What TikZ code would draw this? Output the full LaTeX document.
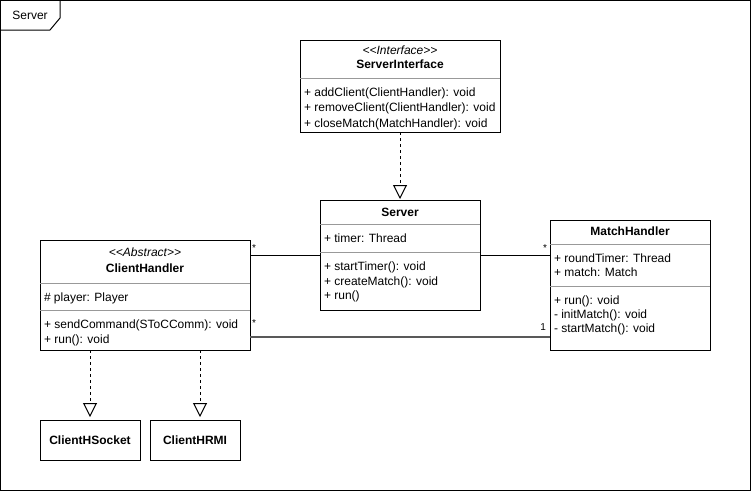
\documentclass[tikz,border=0pt]{standalone}
\usepackage{fontspec}
\setmainfont{Liberation Sans}
\usetikzlibrary{arrows.meta}
\begin{document}
\begin{tikzpicture}[x=1pt,y=-1pt,
  every node/.style={font=\fontsize{12}{14}\selectfont, inner sep=0pt, outer sep=0pt},
  box/.style={draw=black, line width=1pt, anchor=north west},
  sepline/.style={draw=black!40, line width=1pt},
  lt/.style={anchor=base west},
  ct/.style={anchor=base},
  ttl/.style={anchor=base, font=\fontsize{12}{14}\selectfont\bfseries},
  stereo/.style={anchor=base, font=\fontsize{12}{14}\selectfont\itshape},
  mult/.style={font=\fontsize{10}{12}\selectfont},
  assoc/.style={draw=black, line width=1pt},
  realize/.style={draw=black, line width=1pt, dash pattern=on 3pt off 3pt,
    -{Triangle[open, length=14pt, width=14pt, line width=1pt]}}
]
% frame
\path[use as bounding box] (0,0) rectangle (751,491);
\node[box, minimum width=750pt, minimum height=490pt] (frame) at (0.5,0.5) {};
\draw[line width=1pt] (0.5,30) -- (50,30) -- (60,18) -- (60,0.5);
\node[ct] (frametitle) at (30,19.5) {Server};

% ServerInterface
\node[box, minimum width=200pt, minimum height=92pt] (si) at (300,40) {};
\node[stereo] (sist) at (400,54.5) {<{}<Interface>{}>};
\node[ttl] (sit) at (400,68.5) {ServerInterface};
\draw[sepline] (si.west |- 0,78) -- (si.east |- 0,78);
\node[lt] (si1) at (304,96) {+ addClient(ClientHandler): void};
\node[lt] (si2) at (304,111.5) {+ removeClient(ClientHandler): void};
\node[lt] (si3) at (304,127) {+ closeMatch(MatchHandler): void};

% Server
\node[box, minimum width=160pt, minimum height=110pt] (srv) at (320,200) {};
\node[ttl] (srvt) at (400,216.5) {Server};
\draw[sepline] (srv.west |- 0,224) -- (srv.east |- 0,224);
\node[lt] (srv1) at (324,242.5) {+ timer: Thread};
\draw[sepline] (srv.west |- 0,252) -- (srv.east |- 0,252);
\node[lt] (srv2) at (324,270.5) {+ startTimer(): void};
\node[lt] (srv3) at (324,285) {+ createMatch(): void};
\node[lt] (srv4) at (324,299.5) {+ run()};

% ClientHandler
\node[box, minimum width=210pt, minimum height=110pt] (ch) at (40,240) {};
\node[stereo] (chst) at (145,256.5) {<{}<Abstract>{}>};
\node[ttl] (cht) at (145,272.5) {ClientHandler};
\draw[sepline] (ch.west |- 0,283) -- (ch.east |- 0,283);
\node[lt] (ch1) at (44,301.5) {\# player: Player};
\draw[sepline] (ch.west |- 0,310) -- (ch.east |- 0,310);
\node[lt] (ch2) at (44,328.5) {+ sendCommand(SToCComm): void};
\node[lt] (ch3) at (44,343.5) {+ run(): void};

% MatchHandler
\node[box, minimum width=160pt, minimum height=130pt] (mh) at (550,220) {};
\node[ttl] (mht) at (630,235.5) {MatchHandler};
\draw[sepline] (mh.west |- 0,244) -- (mh.east |- 0,244);
\node[lt] (mh1) at (554,262.5) {+ roundTimer: Thread};
\node[lt] (mh2) at (554,276.5) {+ match: Match};
\draw[sepline] (mh.west |- 0,286) -- (mh.east |- 0,286);
\node[lt] (mh3) at (554,304.5) {+ run(): void};
\node[lt] (mh4) at (554,318.5) {- initMatch(): void};
\node[lt] (mh5) at (554,332.5) {- startMatch(): void};

% subclasses
\node[box, minimum width=100pt, minimum height=40pt] (chs) at (40,420) {};
\node[ttl] (chst2) at (chs.center) [yshift=-4.5pt] {ClientHSocket};
\node[box, minimum width=90pt, minimum height=40pt] (chr) at (150,420) {};
\node[ttl] (chrt) at (chr.center) [yshift=-4.5pt] {ClientHRMI};

% realizations
\draw[realize, shorten >=1pt] (si.south) -- (srv.north);
\draw[realize, shorten >=3pt] (ch.south -| chs.north) -- (chs.north);
\draw[realize, shorten >=3pt] (ch.south -| 200,0) -- (chr.north -| 200,0);

% associations
\draw[assoc] (ch.east |- 0,255) -- (srv.west |- 0,255);
\draw[assoc] (srv.east |- 0,255) -- (mh.west |- 0,255);
\draw[draw=black!65, line width=1.4pt] (ch.east |- 0,337) -- (mh.west |- 0,337);
\node[mult, anchor=base west] (m1) at (252,251) {*};
\node[mult, anchor=base east] (m2) at (547,251) {*};
\node[mult, anchor=base west] (m3) at (252,326) {*};
\node[mult, anchor=base east] (m4) at (546,330) {1};
\end{tikzpicture}
\end{document}
